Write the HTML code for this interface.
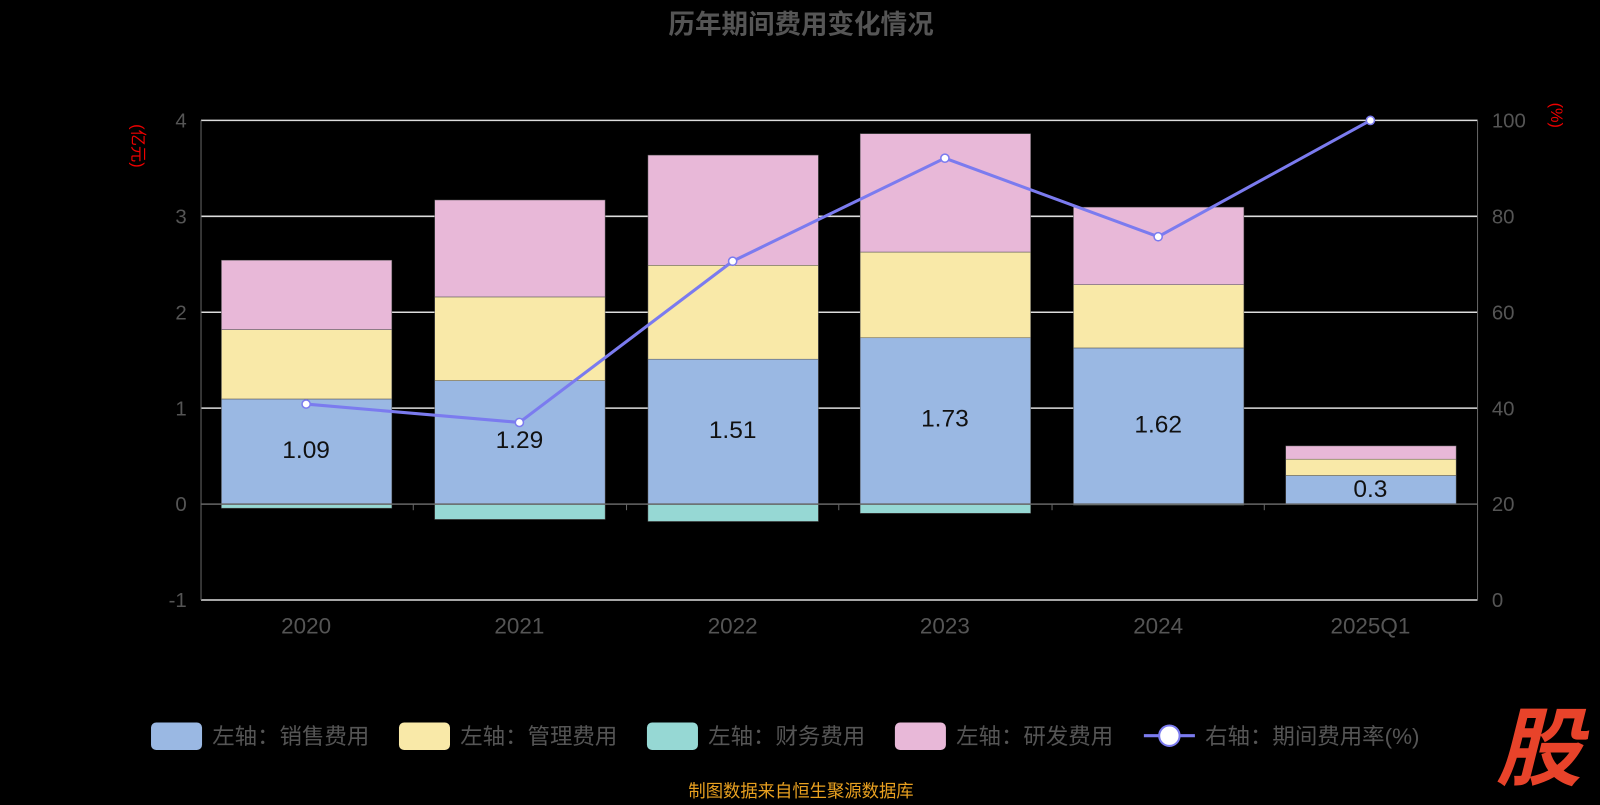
<!DOCTYPE html>
<html><head><meta charset="utf-8"><style>
body{margin:0;background:#000;width:1600px;height:800px;overflow:hidden}
text{font-family:"Liberation Sans","Noto Sans CJK SC",sans-serif}
</style></head><body>
<svg width="1600" height="800" viewBox="0 0 1568 784" preserveAspectRatio="none">
<rect width="1568" height="784" fill="#000"/>
<text x="785" y="33" text-anchor="middle" font-size="26" font-weight="bold" fill="#555">历年期间费用变化情况</text>
<g stroke="#ddd" stroke-width="1.5">
<line x1="197" y1="118" x2="1448" y2="118"/>
<line x1="197" y1="212" x2="1448" y2="212"/>
<line x1="197" y1="306" x2="1448" y2="306"/>
<line x1="197" y1="400" x2="1448" y2="400"/>
<line x1="197" y1="588" x2="1448" y2="588"/>
</g>
<line x1="197" y1="118" x2="197" y2="588" stroke="#666"/>
<line x1="1448" y1="118" x2="1448" y2="588" stroke="#666"/>
<g fill="#555" font-size="20" text-anchor="end">
<text x="183" y="125">4</text><text x="183" y="219">3</text><text x="183" y="313">2</text><text x="183" y="407">1</text><text x="183" y="501">0</text><text x="183" y="595">-1</text>
</g>
<g fill="#555" font-size="20">
<text x="1462" y="125">100</text><text x="1462" y="219">80</text><text x="1462" y="313">60</text><text x="1462" y="407">40</text><text x="1462" y="501">20</text><text x="1462" y="595">0</text>
</g>
<text transform="translate(130,143) rotate(90)" fill="#e00" font-size="16" text-anchor="middle">(亿元)</text>
<text transform="translate(1520,113) rotate(90)" fill="#e00" font-size="16" text-anchor="middle">(%)</text>
<g stroke="#555" stroke-width="0.5">
<rect x="217" y="391" width="167" height="103" fill="#9ab8e3"/>
<rect x="217" y="323" width="167" height="68" fill="#f9e9a8"/>
<rect x="217" y="255" width="167" height="68" fill="#e8b8d8"/>
<rect x="217" y="494" width="167" height="4" fill="#96d8d4"/>
<rect x="426" y="373" width="167" height="121" fill="#9ab8e3"/>
<rect x="426" y="291" width="167" height="82" fill="#f9e9a8"/>
<rect x="426" y="196" width="167" height="95" fill="#e8b8d8"/>
<rect x="426" y="494" width="167" height="15" fill="#96d8d4"/>
<rect x="635" y="352" width="167" height="142" fill="#9ab8e3"/>
<rect x="635" y="260" width="167" height="92" fill="#f9e9a8"/>
<rect x="635" y="152" width="167" height="108" fill="#e8b8d8"/>
<rect x="635" y="494" width="167" height="17" fill="#96d8d4"/>
<rect x="843" y="331" width="167" height="163" fill="#9ab8e3"/>
<rect x="843" y="247" width="167" height="84" fill="#f9e9a8"/>
<rect x="843" y="131" width="167" height="116" fill="#e8b8d8"/>
<rect x="843" y="494" width="167" height="9" fill="#96d8d4"/>
<rect x="1052" y="341" width="167" height="153" fill="#9ab8e3"/>
<rect x="1052" y="279" width="167" height="62" fill="#f9e9a8"/>
<rect x="1052" y="203" width="167" height="76" fill="#e8b8d8"/>
<rect x="1052" y="494" width="167" height="1" fill="#96d8d4"/>
<rect x="1260" y="466" width="167" height="28" fill="#9ab8e3"/>
<rect x="1260" y="450" width="167" height="16" fill="#f9e9a8"/>
<rect x="1260" y="437" width="167" height="13" fill="#e8b8d8"/>
</g>
<line x1="197" y1="494" x2="1448" y2="494" stroke="#666" stroke-width="1.5"/>
<g stroke="#666"><line x1="197" y1="494" x2="197" y2="500"/><line x1="405" y1="494" x2="405" y2="500"/><line x1="614" y1="494" x2="614" y2="500"/><line x1="822" y1="494" x2="822" y2="500"/><line x1="1031" y1="494" x2="1031" y2="500"/><line x1="1239" y1="494" x2="1239" y2="500"/><line x1="1448" y1="494" x2="1448" y2="500"/></g>
<g font-size="24" fill="#111" text-anchor="middle">
<text x="300" y="449">1.09</text><text x="509" y="439">1.29</text><text x="718" y="429">1.51</text><text x="926" y="418">1.73</text><text x="1135" y="424">1.62</text><text x="1343" y="487">0.3</text>
</g>
<polyline points="300,396 509,414 718,256 926,155 1135,232 1343,118" fill="none" stroke="#7b7bef" stroke-width="3"/>
<g fill="#fff" stroke="#7b7bef" stroke-width="1.5">
<circle cx="300" cy="396" r="4"/><circle cx="509" cy="414" r="4"/><circle cx="718" cy="256" r="4"/><circle cx="926" cy="155" r="4"/><circle cx="1135" cy="232" r="4"/><circle cx="1343" cy="118" r="4"/>
</g>
<g font-size="22" fill="#555" text-anchor="middle">
<text x="300" y="621">2020</text><text x="509" y="621">2021</text><text x="718" y="621">2022</text><text x="926" y="621">2023</text><text x="1135" y="621">2024</text><text x="1343" y="621">2025Q1</text>
</g>
<g font-size="22" fill="#555">
<rect x="148" y="708" width="50" height="27" rx="5" fill="#9ab8e3"/><text x="208" y="729">左轴：销售费用</text>
<rect x="391" y="708" width="50" height="27" rx="5" fill="#f9e9a8"/><text x="451" y="729">左轴：管理费用</text>
<rect x="634" y="708" width="50" height="27" rx="5" fill="#96d8d4"/><text x="694" y="729">左轴：财务费用</text>
<rect x="877" y="708" width="50" height="27" rx="5" fill="#e8b8d8"/><text x="937" y="729">左轴：研发费用</text>
<line x1="1121" y1="721" x2="1171" y2="721" stroke="#7b7bef" stroke-width="3"/>
<circle cx="1146" cy="721" r="10" fill="#fff" stroke="#7b7bef" stroke-width="2"/>
<text x="1181" y="729">右轴：期间费用率(%)</text>
</g>
<text x="785" y="781" text-anchor="middle" font-size="17" fill="#e8a020">制图数据来自恒生聚源数据库</text>
<text x="1508" y="763" text-anchor="middle" font-size="84" font-weight="bold" fill="#e8432a" font-style="italic">股</text>
</svg>
</body></html>
